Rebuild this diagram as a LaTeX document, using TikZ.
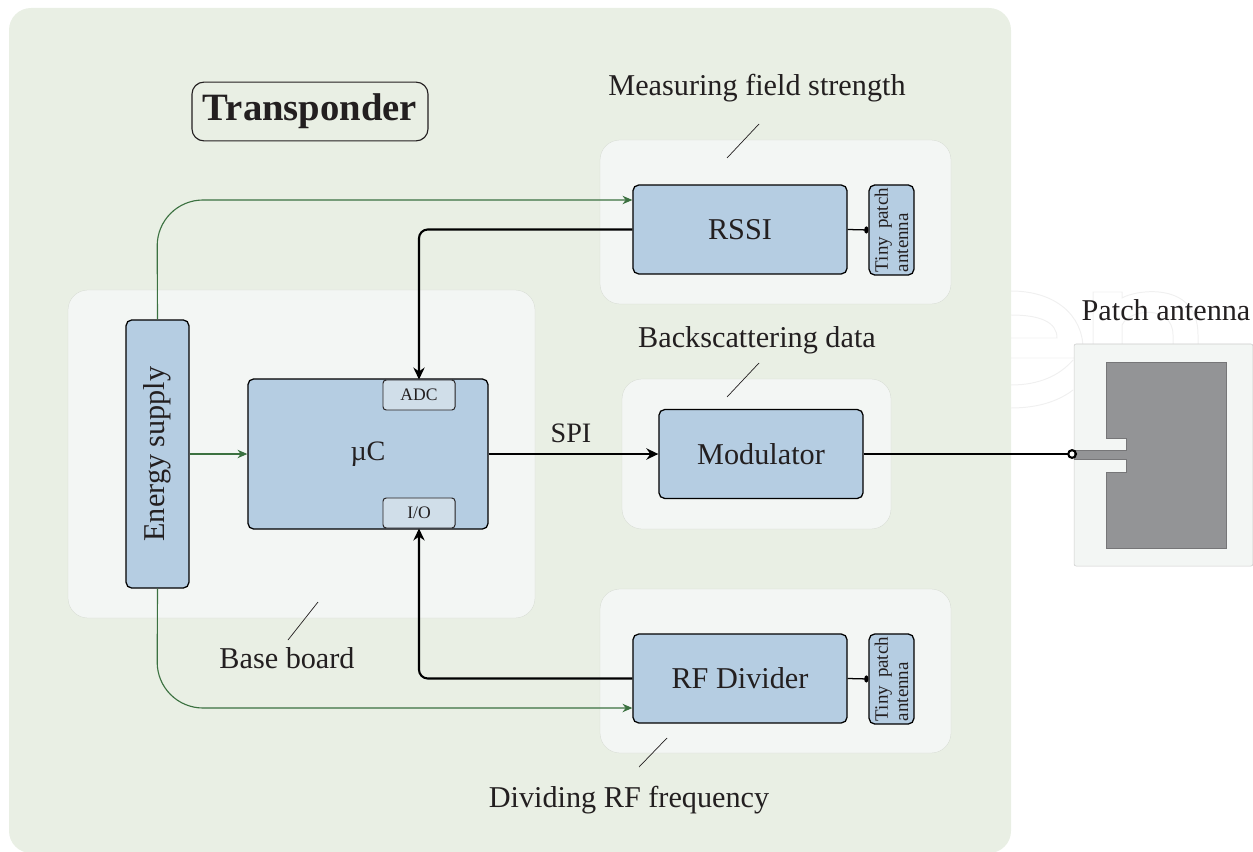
\documentclass[tikz,border=0pt]{standalone}
\usepackage{fontspec}
\setmainfont{Liberation Serif}
\usetikzlibrary{arrows.meta,positioning}
\definecolor{boardgreen}{HTML}{E9EFE4}
\definecolor{regiongray}{HTML}{F3F6F4}
\definecolor{blockblue}{HTML}{B5CDE2}
\definecolor{portblue}{HTML}{D0DEE9}
\definecolor{supplygreen}{HTML}{3B7140}
\definecolor{patchgray}{HTML}{939496}
\definecolor{inkblack}{HTML}{231F20}
\begin{document}
\begin{tikzpicture}[x=0.025cm, y=-0.025cm, text=inkblack,
  board/.style={fill=boardgreen, rounded corners=0.55cm},
  region/.style={fill=regiongray, draw=boardgreen!80!gray, very thin, rounded corners=0.5cm},
  block/.style={draw=black, fill=blockblue, line width=0.9pt, rounded corners=0.14cm, align=center, font=\fontsize{21.5}{25}\selectfont, inner sep=0pt},
  port/.style={draw=inkblack, fill=portblue, line width=0.7pt, rounded corners=0.08cm, font=\fontsize{12.5}{14}\selectfont, inner sep=0pt, minimum width=1.8cm, minimum height=0.75cm},
  tiny/.style={block, rotate=90, align=left, font=\fontsize{13.5}{14.5}\selectfont, minimum width=2.25cm, minimum height=1.12cm},
  caption/.style={font=\fontsize{21.5}{25}\selectfont},
  bus/.style={line width=1.5pt, draw=black, -{Stealth[length=8.5pt,width=8pt]}, rounded corners=0.22cm},
  supply/.style={draw=supplygreen, line width=0.8pt, -{Stealth[length=7pt,width=6pt]}},
  leader/.style={draw=inkblack, line width=0.5pt},
  ghost/.style={draw=black!6, line width=0.7pt}]

  % backgrounds
  \path[use as bounding box] (0,0) rectangle (1253,852);
  \draw[ghost] (1011,291) .. controls (1055,291) and (1083,315) .. (1083,349) -- (1083,358) -- (1011,358);
  \draw[ghost] (1011,315) .. controls (1040,315) and (1057,322) .. (1057,338) -- (1011,338);
  \draw[ghost] (1011,385) .. controls (1040,385) and (1060,375) .. (1073,360);
  \draw[ghost] (1011,408) .. controls (1040,408) and (1060,400) .. (1073,390);
  \draw[ghost] (1093,344) -- (1093,292) -- (1122,292) -- (1122,298) .. controls (1135,290) and (1198,280) .. (1198,335) -- (1198,344);
  \draw[ghost] (1122,344) -- (1122,325) .. controls (1130,308) and (1173,305) .. (1173,335) -- (1173,344);
  \path[board] (9,8) rectangle (1011,853);
  \path[region] (600,140) rectangle (951,304);
  \path[region] (68,290) rectangle (535,618);
  \path[region] (622,379) rectangle (891,529);
  \path[region] (600,589) rectangle (951,753);

  \node [draw=inkblack, line width=0.8pt, rounded corners=0.3cm, minimum width=5.9cm, minimum height=1.47cm, inner sep=0pt, font=\fontsize{27.5}{30}\selectfont\bfseries] (Title) at (310,111.5) {\raisebox{-2pt}{Transponder}};

  % blocks
  \node [block, minimum width=5.35cm, minimum height=2.22cm] (RSSI) at (740,229.5) {RSSI};
  \node [block, minimum width=5.1cm, minimum height=2.22cm] (Modulator) at (761,454) {Modulator};
  \node [block, minimum width=5.35cm, minimum height=2.22cm] (Divider) at (740,678.5) {RF Divider};
  \node [block, minimum width=6cm, minimum height=3.75cm, font=\fontsize{20}{24}\selectfont] (Controller) at (368,454) {µC};
  \node [block, rotate=90, minimum width=6.7cm, minimum height=1.57cm] (Energy) at (157.5,454) {\raisebox{-1pt}{Energy supply}};
  \node [tiny] (TinyTop) at (891.5,230) {\makebox[60pt]{Tiny\hfill patch}\\antenna};
  \node [tiny] (TinyBottom) at (891.5,679) {\makebox[60pt]{Tiny\hfill patch}\\antenna};
  \node [port] (ADC) at (419,395) {ADC};
  \node [port] (IO) at (419,513) {I/O};

  % patch antenna
  \node [draw=black!20, fill=regiongray, rounded corners=0.05cm, minimum width=4.47cm, minimum height=5.55cm, inner sep=0pt] (PatchBoard) at (1163.5,455) {};
  \fill[patchgray, draw=patchgray!80!black, very thin] (1106,362) -- (1226,362) -- (1226,548) -- (1106,548) -- (1106,472) -- (1126,472) -- (1126,459) -- (1074,459) -- (1074,450) -- (1126,450) -- (1126,438) -- (1106,438) -- cycle;
  \coordinate (Feed) at (1077,454);

  % connectors
  \coordinate (SupplyTop) at (157,200);
  \coordinate (SupplyBottom) at (157,708);
  \draw[supply, rounded corners=1.15cm] (Energy.east) -- (SupplyTop) -- (RSSI.west |- SupplyTop);
  \draw[supply, rounded corners=1.15cm] (Energy.west) -- (SupplyBottom) -- (Divider.west |- SupplyBottom);
  \draw[supply] (Energy.south) -- (Controller.west);
  \draw[bus] (RSSI.west) -| (ADC.north);
  \draw[bus] (Divider.west) -| (IO.south);
  \draw[bus] (Controller.east) -- (Modulator.west);
  \node [caption, font=\fontsize{20}{24}\selectfont] (SPI) at (571,433) {SPI};
  \draw[line width=1.5pt, -{Circle[open,length=7pt,width=7pt]}] (Modulator.east) -- (Feed);
  \draw[line width=0.9pt, -{Circle[length=3pt,width=5pt]}] (RSSI.east) -- (TinyTop.north);
  \draw[line width=0.9pt, -{Circle[length=3pt,width=5pt]}] (Divider.east) -- (TinyBottom.north);

  % captions
  \node [caption] (MeasureLabel) at (757,88) {Measuring field strength};
  \node [caption] (BackLabel) at (757,340) {Backscattering data};
  \node [caption] (BaseLabel) at (287,658) {Base board};
  \node [caption] (DivideLabel) at (629,800) {Dividing RF frequency};
  \node [caption] (PatchLabel) at (1166,310) {Patch antenna};

  \coordinate (MeasureA) at (727,158);
  \coordinate (MeasureB) at (759,124);
  \coordinate (BackA) at (727,397);
  \coordinate (BackB) at (759,363);
  \coordinate (BaseA) at (288,640);
  \coordinate (BaseB) at (318,602);
  \coordinate (DivideA) at (639,767);
  \coordinate (DivideB) at (667,738);
  \draw[leader] (MeasureA) -- (MeasureB);
  \draw[leader] (BackA) -- (BackB);
  \draw[leader] (BaseA) -- (BaseB);
  \draw[leader] (DivideA) -- (DivideB);
\end{tikzpicture}
\end{document}
